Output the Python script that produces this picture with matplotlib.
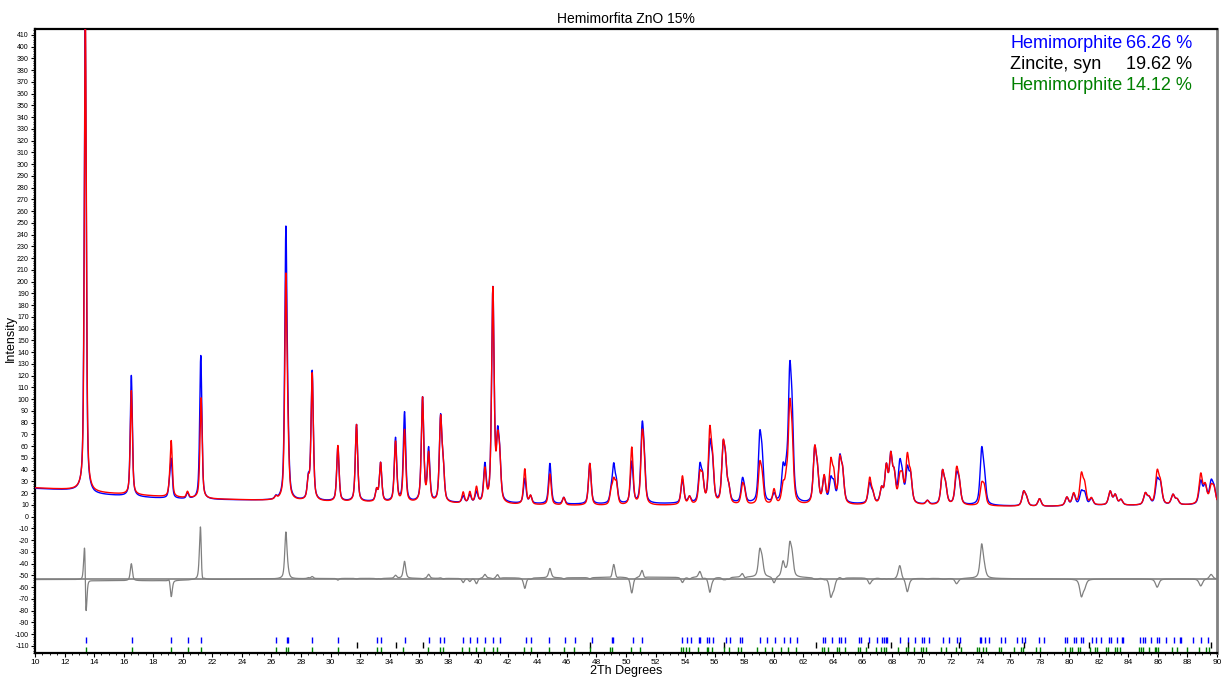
import numpy as np
import matplotlib
matplotlib.use("Agg")
import matplotlib.pyplot as plt
from matplotlib.ticker import MultipleLocator

# background levels (2Th, intensity)
bg_x = [10, 13, 14, 16, 18, 20, 22, 25, 27, 30, 33, 35, 38, 42, 46, 50, 53, 57, 60, 63, 66, 70, 74, 78, 82, 86, 90]
bg_obs = [24, 22, 19, 17.5, 16, 15, 14.5, 14, 13.5, 13, 12.5, 12, 11.5, 11, 10.5, 10.5, 11, 11, 11, 10.5, 10.5, 10, 9.5, 8.5, 9.5, 9.5, 10]
bg_calc = [24.5, 22.5, 20.5, 19, 17.5, 16, 15, 14, 13.5, 12.5, 12, 11.5, 11, 10, 9.5, 9, 9.5, 9.5, 9.5, 9.5, 9.5, 9.5, 9, 8.5, 9.5, 9.5, 10]

# peaks: position, observed top, calculated top
peak_pos = [13.40, 16.52, 19.10, 19.22, 20.32, 21.22, 26.30, 26.98, 27.12, 28.50, 28.76,
            30.50, 31.76, 33.12, 33.39, 34.40, 35.01, 36.23, 36.64, 37.45, 37.62,
            38.98, 39.43, 39.88, 40.45, 40.99, 41.31, 41.45, 43.15, 43.54, 44.85,
            45.79, 47.55, 49.00, 49.17, 49.35, 50.39, 51.09, 51.22, 53.82, 54.30,
            55.00, 55.18, 55.67, 55.85, 56.57, 56.73, 56.95, 57.88, 58.02, 59.05,
            59.21, 60.02, 60.63, 60.85, 61.08, 61.24, 62.77, 62.95, 63.41, 63.86,
            64.06, 64.47, 64.66, 66.49, 66.70, 67.30, 67.62, 67.92, 68.15, 68.53,
            68.70, 69.04, 69.26, 70.40, 71.42, 71.62, 72.37, 72.55, 74.07, 74.25,
            76.91, 77.10, 77.99, 79.84, 80.30, 80.82, 81.04, 81.50, 82.77, 83.11,
            83.50, 85.15, 85.40, 85.95, 86.17, 87.02, 87.30, 88.90, 89.20, 89.60, 89.80]
calc_pos_shift = {13.40: 0.008, 21.22: 0.02}
obs_top = [425, 120, 24, 47, 20, 137, 16, 238, 50, 30, 123,
           59, 78, 22, 45, 66, 88, 100, 56, 81, 40,
           17, 18, 20, 42, 192, 58, 42, 32, 17, 45,
           16, 45, 20, 40, 26, 46, 68, 40, 31, 16,
           40, 30, 57, 42, 54, 40, 22, 29, 19, 62,
           44, 18, 38, 30, 108, 72, 53, 34, 32, 29,
           25, 46, 34, 27, 18, 22, 40, 48, 32, 40,
           28, 37, 32, 13, 36, 24, 33, 26, 53, 30,
           20, 15, 15, 16, 19, 20, 19, 15, 21, 18,
           14, 19, 15, 29, 26, 18, 14, 29, 25, 27, 22]
calc_top = [425, 107, 22, 63, 21, 101, 16, 199, 46, 29, 121,
            60, 78, 22, 45, 63, 73, 100, 52, 80, 40,
            20, 20, 24, 38, 192, 54, 42, 40, 17, 36,
            16, 45, 20, 27, 26, 58, 60, 40, 34, 16,
            33, 30, 68, 42, 54, 40, 22, 24, 19, 40,
            30, 22, 24, 26, 82, 55, 53, 34, 32, 43,
            32, 44, 34, 31, 18, 22, 40, 48, 32, 28,
            28, 48, 32, 13, 36, 24, 37, 26, 25, 23,
            20, 15, 15, 16, 19, 34, 25, 15, 21, 18,
            14, 19, 15, 36, 26, 18, 14, 35, 25, 23, 22]

# reflection markers
hemi1_ticks = [13.43, 16.54, 19.20, 20.33, 21.23, 26.29, 27.03, 27.12, 28.76, 30.48, 33.14, 33.41,
               35.05, 36.66, 37.42, 37.65, 38.98, 39.43, 39.93, 40.47, 41.01, 41.46, 43.20,
               43.54, 44.80, 45.86, 46.54, 47.67, 49.02, 49.15, 50.44, 51.07, 53.82, 54.14,
               54.43, 54.93, 55.04, 55.51, 55.65, 55.92, 56.80, 57.04, 57.70, 57.86, 59.05,
               59.55, 60.07, 60.70, 61.10, 61.56, 63.36, 63.47, 63.92, 64.42, 64.53, 64.82,
               65.77, 65.91, 66.48, 66.99, 67.35, 67.46, 67.58, 67.69, 68.53, 69.07, 69.59,
               70.01, 70.15, 70.49, 71.46, 71.86, 72.41, 72.59, 73.94, 74.05, 74.28, 74.55,
               75.41, 75.63, 76.47, 76.83, 76.98, 77.93, 78.27, 79.74, 79.84, 80.32, 80.43,
               80.77, 80.91, 81.56, 81.83, 82.13, 82.67, 82.80, 83.21, 83.55, 83.66, 84.81,
               84.99, 85.15, 85.56, 85.96, 86.07, 86.57, 87.09, 87.47, 87.54, 88.37, 88.94, 89.39]
zincite_ticks = [31.77, 34.42, 36.25, 47.54, 56.60, 62.86, 66.38, 67.96, 69.10, 72.56, 76.95, 81.37, 89.61]
hemi2_ticks = [13.43, 16.54, 19.20, 20.33, 21.23, 26.29, 26.98, 27.12, 28.72, 30.48, 33.12, 33.41,
               34.94, 36.59, 37.40, 37.61, 38.87, 39.39, 39.88, 40.38, 40.97, 41.24, 43.11,
               43.54, 44.76, 45.81, 46.49, 47.55, 48.90, 49.08, 50.37, 50.98, 53.71, 53.86,
               54.09, 54.25, 54.88, 55.45, 55.56, 55.85, 56.62, 56.98, 57.59, 57.81, 58.90,
               59.44, 59.91, 60.52, 60.97, 61.49, 63.29, 63.38, 63.70, 64.31, 64.42, 64.79,
               65.70, 65.86, 66.27, 66.95, 67.29, 67.44, 67.58, 68.41, 68.98, 69.09, 69.49,
               69.95, 70.10, 70.28, 71.30, 71.68, 72.36, 72.70, 73.76, 73.87, 74.16, 74.39,
               75.22, 75.41, 76.24, 76.76, 76.87, 77.73, 78.05, 79.69, 80.08, 80.21, 80.59,
               80.75, 81.43, 81.77, 81.88, 82.47, 82.62, 83.08, 83.23, 83.42, 84.70, 84.88,
               84.99, 85.40, 85.79, 85.90, 86.01, 86.98, 87.32, 87.97, 88.78, 89.24, 89.46]

phase_names = ["Hemimorphite", "Zincite, syn", "Hemimorphite"]
phase_pct = ["66.26 %", "19.62 %", "14.12 %"]
phase_colors = ["#0000ff", "#000000", "#008000"]

DIFF_OFFSET = -53


def profile(x, centers, tops, bg_y, shifts=None):
    y = np.interp(x, bg_x, bg_y)
    for c, h in zip(centers, tops):
        c0 = c + (shifts.get(c, 0.0) if shifts else 0.0)
        amp = h - np.interp(c0, bg_x, bg_y)
        hw = 0.5 * (0.14 + 0.0015 * c0)
        u = ((x - c0) / hw) ** 2
        y += amp * (0.55 / (1 + u) + 0.45 * np.exp(-np.log(2) * u))
    return y


def main():
    plt.rcParams["font.family"] = ["Liberation Sans", "DejaVu Sans"]
    plt.rcParams["axes.unicode_minus"] = False

    x = np.arange(10, 90.001, 0.01)
    y_obs = profile(x, peak_pos, obs_top, bg_obs)
    y_calc = profile(x, peak_pos, calc_top, bg_calc, calc_pos_shift)
    y_diff = y_obs - y_calc + DIFF_OFFSET

    fig = plt.figure(figsize=(12.24, 6.77), dpi=100)
    ax = fig.add_axes([35 / 1224, 24 / 677, 1182 / 1224, 624 / 677])

    ax.axhline(DIFF_OFFSET, color="#808080", lw=1.2, zorder=1)
    ax.plot(x, y_diff, color="#808080", lw=0.9, zorder=2)
    ax.plot(x, y_obs, color="#0000ff", lw=1.0, zorder=3)
    ax.plot(x, y_calc, color="#ff0000", lw=1.0, zorder=4)

    ax.vlines(hemi1_ticks, -107.7, -102, color="#0000ff", lw=1.0)
    ax.vlines(zincite_ticks, -112, -107, color="#000000", lw=1.0)
    ax.vlines(hemi2_ticks, -116, -111, color="#008000", lw=1.0)

    ax.set_xlim(10, 90)
    ax.set_ylim(-116, 415)
    ax.xaxis.set_major_locator(MultipleLocator(2))
    ax.xaxis.set_minor_locator(MultipleLocator(0.5))
    ax.yaxis.set_major_locator(MultipleLocator(10))
    ax.yaxis.set_minor_locator(MultipleLocator(2))
    ax.tick_params(axis="both", which="major", length=3, width=0.8, pad=1.5)
    ax.tick_params(axis="both", which="minor", length=1.5, width=0.6)
    ax.tick_params(axis="y", labelsize=5)
    ax.tick_params(axis="x", labelsize=6, pad=1)

    for side in ["left", "bottom", "top"]:
        ax.spines[side].set_color("black")
        ax.spines[side].set_linewidth(1.6)
    ax.spines["right"].set_color("#808080")
    ax.spines["right"].set_linewidth(2)

    ax.set_title("Hemimorfita ZnO 15%", fontsize=10, pad=4)
    fig.text(626 / 1224, 1 - 671 / 677, "2Th Degrees", fontsize=9, ha="center", va="center")
    fig.text(0.004, 0.5, "Intensity", rotation=90, va="center", ha="left", fontsize=9)

    # phase legend
    for i, (name, pct, col) in enumerate(zip(phase_names, phase_pct, phase_colors)):
        yy = 1 - (43.5 + i * 21 - 29) / 624
        ax.text((1010 - 35) / 1182, yy, name, color=col, fontsize=13,
                transform=ax.transAxes, ha="left", va="center")
        ax.text((1192 - 35) / 1182, yy, pct, color=col, fontsize=13,
                transform=ax.transAxes, ha="right", va="center")

    fig.savefig("out.png", dpi=100)
    plt.close(fig)


if __name__ == "__main__":
    main()
